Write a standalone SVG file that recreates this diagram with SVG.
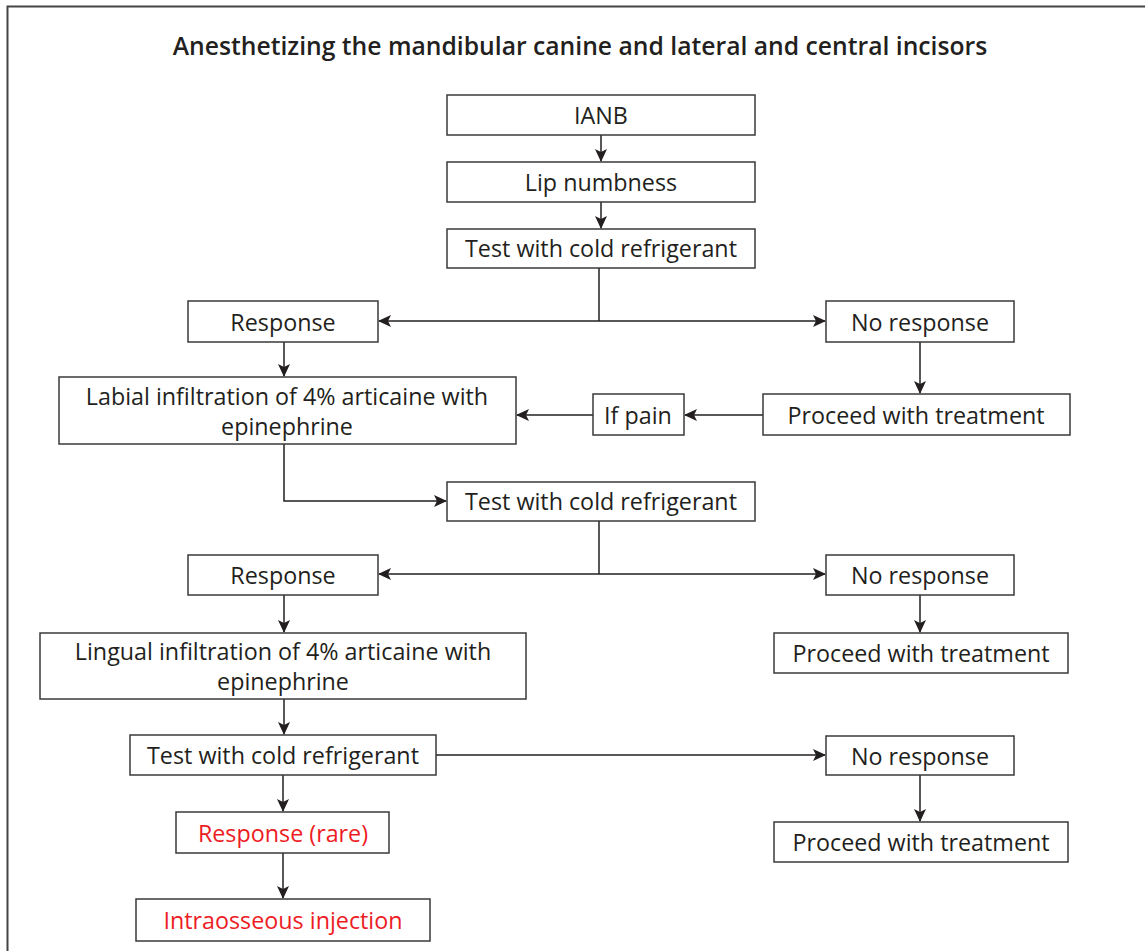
<svg xmlns="http://www.w3.org/2000/svg" width="1145" height="951" viewBox="0 0 1145 951">
<defs>
<marker id="ah" markerWidth="13" markerHeight="12" refX="12" refY="6" orient="auto" markerUnits="userSpaceOnUse" viewBox="0 0 13 12">
<path d="M0,0 L13,6 L0,12 L3,6 Z" fill="#231f20"/>
</marker>
<style>
.b{fill:#fff;stroke:#3a3a3a;stroke-width:1.5}
.t{font-family:"Open Sans",Lato,"Liberation Sans",sans-serif;font-size:23.3px;fill:#231f20;text-anchor:middle}
.r{fill:#ed1c24}
.c{fill:none;stroke:#231f20;stroke-width:1.5}
.ti{font-family:"Open Sans",Lato,"Liberation Sans",sans-serif;font-size:24.7px;font-weight:600;fill:#231f20;text-anchor:middle}
</style>
</defs>
<rect width="1145" height="951" fill="#fff"/>
<path d="M7.5,960 V6.5 H1160" fill="none" stroke="#444" stroke-width="2"/>
<text class="ti" x="580" y="55">Anesthetizing the mandibular canine and lateral and central incisors</text>
<g id="connectors">
<line class="c" x1="601" y1="135" x2="601" y2="161" marker-end="url(#ah)"/>
<line class="c" x1="601" y1="202" x2="601" y2="228" marker-end="url(#ah)"/>
<line class="c" x1="599" y1="268" x2="599" y2="321"/>
<line class="c" x1="599" y1="321" x2="379" y2="321" marker-end="url(#ah)"/>
<line class="c" x1="599" y1="321" x2="825" y2="321" marker-end="url(#ah)"/>
<line class="c" x1="284" y1="342" x2="284" y2="376" marker-end="url(#ah)"/>
<line class="c" x1="920" y1="342" x2="920" y2="393" marker-end="url(#ah)"/>
<line class="c" x1="763" y1="415" x2="685" y2="415" marker-end="url(#ah)"/>
<line class="c" x1="593" y1="415" x2="517" y2="415" marker-end="url(#ah)"/>
<polyline class="c" points="284,444 284,501 446,501" marker-end="url(#ah)"/>
<line class="c" x1="599" y1="521" x2="599" y2="574"/>
<line class="c" x1="599" y1="574" x2="379" y2="574" marker-end="url(#ah)"/>
<line class="c" x1="599" y1="574" x2="825" y2="574" marker-end="url(#ah)"/>
<line class="c" x1="284" y1="595" x2="284" y2="632" marker-end="url(#ah)"/>
<line class="c" x1="920" y1="595" x2="920" y2="632" marker-end="url(#ah)"/>
<line class="c" x1="284" y1="699" x2="284" y2="734" marker-end="url(#ah)"/>
<line class="c" x1="436" y1="755" x2="825" y2="755" marker-end="url(#ah)"/>
<line class="c" x1="920" y1="775" x2="920" y2="821" marker-end="url(#ah)"/>
<line class="c" x1="283" y1="775" x2="283" y2="811" marker-end="url(#ah)"/>
<line class="c" x1="283" y1="853" x2="283" y2="898" marker-end="url(#ah)"/>
</g>
<g id="ianb"><rect class="b" x="447" y="95" width="308" height="40"/><text class="t" x="601" y="124">IANB</text></g>
<g id="lip"><rect class="b" x="447" y="162" width="308" height="40"/><text class="t" x="601" y="191">Lip numbness</text></g>
<g id="test1"><rect class="b" x="447" y="229" width="308" height="39"/><text class="t" x="601" y="257">Test with cold refrigerant</text></g>
<g id="resp1"><rect class="b" x="188" y="301" width="190" height="41"/><text class="t" x="283" y="331">Response</text></g>
<g id="noresp1"><rect class="b" x="826" y="301" width="188" height="41"/><text class="t" x="920" y="331">No response</text></g>
<g id="labial"><rect class="b" x="59" y="377" width="457" height="67"/><text class="t" x="287" y="405">Labial infiltration of 4% articaine with</text><text class="t" x="287" y="435">epinephrine</text></g>
<g id="ifpain"><rect class="b" x="593" y="394" width="91" height="41"/><text class="t" x="638" y="424">If pain</text></g>
<g id="proceed1"><rect class="b" x="763" y="394" width="307" height="41"/><text class="t" x="916" y="424">Proceed with treatment</text></g>
<g id="test2"><rect class="b" x="447" y="482" width="308" height="39"/><text class="t" x="601" y="510">Test with cold refrigerant</text></g>
<g id="resp2"><rect class="b" x="188" y="555" width="190" height="40"/><text class="t" x="283" y="584">Response</text></g>
<g id="noresp2"><rect class="b" x="826" y="555" width="188" height="40"/><text class="t" x="920" y="584">No response</text></g>
<g id="proceed2"><rect class="b" x="774" y="633" width="294" height="40"/><text class="t" x="921" y="662">Proceed with treatment</text></g>
<g id="lingual"><rect class="b" x="40" y="633" width="486" height="66"/><text class="t" x="283" y="660">Lingual infiltration of 4% articaine with</text><text class="t" x="283" y="690">epinephrine</text></g>
<g id="test3"><rect class="b" x="130" y="735" width="306" height="40"/><text class="t" x="283" y="764">Test with cold refrigerant</text></g>
<g id="noresp3"><rect class="b" x="826" y="736" width="188" height="39"/><text class="t" x="920" y="765">No response</text></g>
<g id="proceed3"><rect class="b" x="774" y="822" width="294" height="40"/><text class="t" x="921" y="851">Proceed with treatment</text></g>
<g id="rare"><rect class="b" x="176" y="812" width="213" height="41"/><text class="t r" x="283" y="842">Response (rare)</text></g>
<g id="intra"><rect class="b" x="136" y="899" width="294" height="42"/><text class="t r" x="283" y="929">Intraosseous injection</text></g>
</svg>
